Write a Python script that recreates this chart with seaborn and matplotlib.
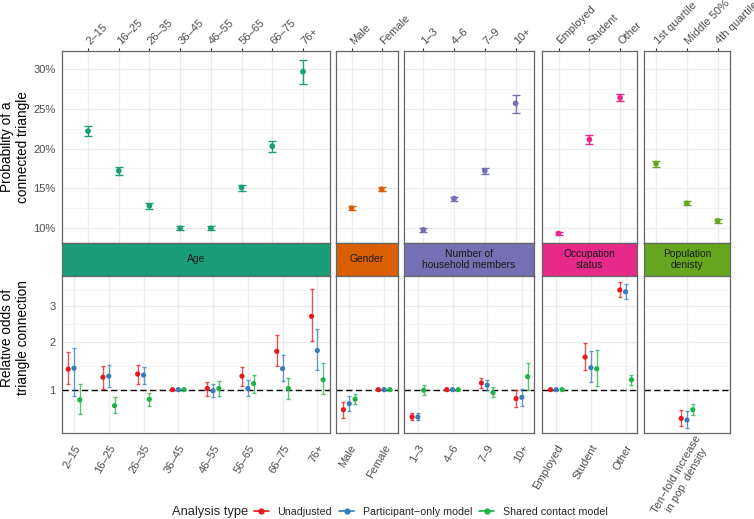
import numpy as np
import pandas as pd
import matplotlib.pyplot as plt
import seaborn as sns
from matplotlib.lines import Line2D

# --- Data ---
age_labels = ["2–15", "16–25", "26–35", "36–45", "46–55", "56–65", "66–75", "76+"]
gender_labels = ["Male", "Female"]
household_labels = ["1–3", "4–6", "7–9", "10+"]
occupation_labels = ["Employed", "Student", "Other"]
density_labels = ["1st quartile", "Middle 50%", "4th quartile"]
density_odds_labels = ["Ten−fold increase\nin pop. density"]

strip_titles = ["Age", "Gender", "Number of\nhousehold members",
                "Occupation\nstatus", "Population\ndenisty"]
group_colors = ["#1B9E77", "#D95F02", "#7570B3", "#E7298A", "#66A61E"]

# probability of a connected triangle (%): (estimate, lower, upper)
age_prob = [(22.2, 21.6, 22.8), (17.2, 16.7, 17.7), (12.8, 12.4, 13.1), (9.95, 9.7, 10.2),
            (9.95, 9.7, 10.2), (15.1, 14.7, 15.4), (20.3, 19.6, 20.9), (29.7, 28.1, 31.2)]
gender_prob = [(12.5, 12.3, 12.8), (14.85, 14.6, 15.1)]
household_prob = [(9.75, 9.45, 10.0), (13.7, 13.45, 13.95), (17.2, 16.8, 17.6), (25.7, 24.5, 26.8)]
occupation_prob = [(9.3, 9.1, 9.5), (21.15, 20.6, 21.7), (26.4, 26.0, 26.9)]
density_prob = [(18.1, 17.7, 18.4), (13.1, 12.85, 13.35), (10.9, 10.6, 11.1)]

# relative odds of triangle connection: (estimate, lower, upper)
age_unadj = [(1.39, 1.10, 1.77), (1.23, 1.02, 1.45), (1.29, 1.11, 1.47), (1.0, 1.0, 1.0),
             (1.02, 0.90, 1.13), (1.25, 1.07, 1.44), (1.78, 1.45, 2.17), (2.69, 2.02, 3.54)]
age_partonly = [(1.41, 0.90, 1.85), (1.25, 1.05, 1.47), (1.27, 1.10, 1.44), (1.0, 1.0, 1.0),
                (0.98, 0.88, 1.10), (1.02, 0.89, 1.18), (1.40, 1.15, 1.69), (1.80, 1.37, 2.35)]
age_shared = [(0.83, 0.62, 1.11), (0.74, 0.63, 0.87), (0.84, 0.74, 0.95), (1.0, 1.0, 1.0),
              (1.02, 0.90, 1.15), (1.11, 0.95, 1.27), (1.02, 0.85, 1.21), (1.18, 0.92, 1.51)]
gender_unadj = [(0.68, 0.57, 0.79), (1.0, 1.0, 1.0)]
gender_partonly = [(0.77, 0.66, 0.90), (1.0, 1.0, 1.0)]
gender_shared = [(0.84, 0.77, 0.93), (1.0, 1.0, 1.0)]
household_unadj = [(0.58, 0.54, 0.63), (1.0, 1.0, 1.0), (1.12, 1.03, 1.22), (0.85, 0.72, 0.99)]
household_partonly = [(0.58, 0.54, 0.64), (1.0, 1.0, 1.0), (1.08, 0.99, 1.18), (0.87, 0.73, 1.01)]
household_shared = [(0.99, 0.91, 1.08), (1.0, 1.0, 1.0), (0.95, 0.87, 1.05), (1.24, 0.99, 1.53)]
occupation_unadj = [(1.0, 1.0, 1.0), (1.65, 1.37, 1.98), (3.50, 3.27, 3.75)]
occupation_partonly = [(1.0, 1.0, 1.0), (1.42, 1.13, 1.78), (3.44, 3.22, 3.69)]
occupation_shared = [(1.0, 1.0, 1.0), (1.40, 1.07, 1.82), (1.18, 1.08, 1.28)]
density_unadj = [(0.56, 0.47, 0.68)]
density_partonly = [(0.54, 0.44, 0.66)]
density_shared = [(0.68, 0.60, 0.77)]

model_names = ["Unadjusted", "Participant−only model", "Shared contact model"]
model_colors = ["#E41A1C", "#377EB8", "#1DB446"]

# --- build long tables ---
prob_sets = [age_prob, gender_prob, household_prob, occupation_prob, density_prob]
top_labels = [age_labels, gender_labels, household_labels, occupation_labels, density_labels]
bottom_labels = [age_labels, gender_labels, household_labels, occupation_labels, density_odds_labels]
odds_sets = [
    [age_unadj, age_partonly, age_shared],
    [gender_unadj, gender_partonly, gender_shared],
    [household_unadj, household_partonly, household_shared],
    [occupation_unadj, occupation_partonly, occupation_shared],
    [density_unadj, density_partonly, density_shared],
]

top_rows = []
for g, vals in enumerate(prob_sets):
    for i, (est, lo, hi) in enumerate(vals):
        top_rows.append(dict(group=g, idx=i, est=est, lo=lo, hi=hi))
top_df = pd.DataFrame(top_rows)

dodge = [-0.167, 0.0, 0.167]
bottom_rows = []
for g, models in enumerate(odds_sets):
    for m, vals in enumerate(models):
        for i, (est, lo, hi) in enumerate(vals):
            bottom_rows.append(dict(group=g, idx=i, model=model_names[m],
                                    pos=i + dodge[m], est=est, lo=lo, hi=hi))
bottom_df = pd.DataFrame(bottom_rows)

# --- layout (pixel geometry of the reference) ---
sns.set_style("white")
plt.rcParams["font.family"] = ["Liberation Sans", "DejaVu Sans"]

W, H = 754, 519
fig = plt.figure(figsize=(W / 100, H / 100), dpi=100)


def px_axes(x0, y0, x1, y1):
    return fig.add_axes([x0 / W, 1 - y1 / H, (x1 - x0) / W, (y1 - y0) / H])


panel_x = [(62, 329.5), (336, 397.7), (404, 534), (542, 636.7), (644.3, 730)]
top_xlim = [(-0.847, 7.863), (-0.52, 1.53), (-0.63, 3.6), (-0.54, 2.54), (-0.38, 2.4)]
bot_xlim = [(-0.345, 7.35), (-0.38, 1.39), (-0.40, 3.35), (-0.41, 2.32), (-1.23, 1.24)]
TOP_Y = (51, 243)
STRIP_Y = (243, 276)
BOT_Y = (276, 433.3)

border = "#666666"
grid_major = "#EBEBEB"
tick_col = "#4D4D4D"
TICK_FS = 8.0

for g in range(5):
    x0, x1 = panel_x[g]
    col = group_colors[g]

    # top: probability panel
    ax = px_axes(x0, TOP_Y[0], x1, TOP_Y[1])
    sub = top_df[top_df.group == g]
    ax.errorbar(sub.idx, sub.est, yerr=[sub.est - sub.lo, sub.hi - sub.est], fmt="none",
                ecolor=col, elinewidth=1.0, capsize=3.2, capthick=1.0, zorder=3)
    sns.scatterplot(data=sub, x="idx", y="est", color=col, s=17, edgecolor="none",
                    ax=ax, zorder=4, legend=False)
    ax.set_xlim(top_xlim[g])
    ax.set_ylim(8.1, 32.3)
    ax.set_xticks(range(len(top_labels[g])))
    ax.set_xticklabels(top_labels[g], rotation=45, ha="left", va="center",
                       rotation_mode="anchor", fontsize=TICK_FS, color=tick_col)
    ax.xaxis.tick_top()
    ax.set_yticks([10, 15, 20, 25, 30])
    ax.set_yticks([12.5, 17.5, 22.5, 27.5], minor=True)
    if g == 0:
        ax.set_yticklabels([f"{v}%" for v in [10, 15, 20, 25, 30]], fontsize=TICK_FS, color=tick_col)
        ax.tick_params(axis="y", which="major", length=2.5, color="#333333", pad=2)
    else:
        ax.set_yticklabels([])
        ax.tick_params(axis="y", which="major", length=0)
    ax.tick_params(axis="y", which="minor", length=0)
    ax.tick_params(axis="x", length=2.5, color="#333333", pad=3.5)
    ax.set_xlabel("")
    ax.set_ylabel("")
    ax.grid(True, which="major", color=grid_major, lw=0.9, zorder=0)
    ax.grid(True, which="minor", axis="y", color="#F2F2F2", lw=0.5, zorder=0)
    ax.set_axisbelow(True)
    for s in ax.spines.values():
        s.set_color(border)
        s.set_linewidth(0.9)

    # strip
    sax = px_axes(x0, STRIP_Y[0], x1, STRIP_Y[1])
    sax.set_facecolor(col)
    sax.set_xticks([])
    sax.set_yticks([])
    for s in sax.spines.values():
        s.set_color(border)
        s.set_linewidth(0.9)
    sax.text(0.5, 0.5, strip_titles[g], ha="center", va="center", fontsize=7.4,
             color="#1A1A1A", transform=sax.transAxes, linespacing=1.05)

    # bottom: relative odds panel
    bx = px_axes(x0, BOT_Y[0], x1, BOT_Y[1])
    bx.set_yscale("function", functions=(np.sqrt, np.square))
    bsub = bottom_df[bottom_df.group == g]
    for m, name in enumerate(model_names):
        msub = bsub[bsub.model == name]
        bx.errorbar(msub.pos, msub.est, yerr=[msub.est - msub.lo, msub.hi - msub.est],
                    fmt="none", ecolor=model_colors[m], elinewidth=1.0, alpha=0.75,
                    capsize=1.6, capthick=1.0, zorder=3)
    sns.scatterplot(data=bsub, x="pos", y="est", hue="model", palette=model_colors,
                    hue_order=model_names, s=14, edgecolor="none", ax=bx, zorder=4,
                    legend=False)
    bx.axhline(1, color="black", lw=1.0, ls=(0, (4.5, 2.5)), zorder=2)
    bx.set_xlim(bot_xlim[g])
    bx.set_ylim(0.383, 3.97)
    bx.set_xticks(range(len(bottom_labels[g])))
    if g == 4:
        # the two-line label sits a little up and right of a plain tick label
        bx.set_xticklabels([""])
        for i, lab in enumerate(bottom_labels[g]):
            bx.annotate(lab, xy=(i, 0), xycoords=bx.get_xaxis_transform(),
                        xytext=(5, 0), textcoords="offset points", rotation=60,
                        ha="right", va="top", rotation_mode="anchor",
                        multialignment="center", fontsize=TICK_FS, color=tick_col,
                        annotation_clip=False)
    else:
        bx.set_xticklabels(bottom_labels[g], rotation=60, ha="right", va="top",
                           rotation_mode="anchor", fontsize=TICK_FS, color=tick_col)
    bx.set_yticks([1, 2, 3])
    bx.set_yticks([1.457, 2.475, 3.5], minor=True)
    if g == 0:
        bx.set_yticklabels(["1", "2", "3"], fontsize=TICK_FS, color=tick_col)
        bx.tick_params(axis="y", which="major", length=2.5, color="#333333", pad=2)
    else:
        bx.set_yticklabels([])
        bx.tick_params(axis="y", which="major", length=0)
    bx.tick_params(axis="y", which="minor", length=0)
    bx.tick_params(axis="x", length=2.5, color="#333333", pad=4.5)
    bx.set_xlabel("")
    bx.set_ylabel("")
    bx.grid(True, which="major", color=grid_major, lw=0.9, zorder=0)
    bx.grid(True, which="minor", axis="y", color="#F2F2F2", lw=0.5, zorder=0)
    bx.set_axisbelow(True)
    for s in bx.spines.values():
        s.set_color(border)
        s.set_linewidth(0.9)

# axis titles
fig.text(15 / W, 1 - 147 / H, "Probability of a\nconnected triangle", rotation=90,
         ha="center", va="center", fontsize=9.8, color="black")
fig.text(15 / W, 1 - 338 / H, "Relative odds of\ntriangle connection", rotation=90,
         ha="center", va="center", fontsize=9.8, color="black")

# legend
fig.text(172 / W, 1 - 512 / H, "Analysis type", ha="left", va="center", fontsize=9.3)
handles = [Line2D([0], [0], color=c, lw=1.2, marker="o", markersize=3.5) for c in model_colors]
fig.legend(handles, model_names, loc="center left", bbox_to_anchor=(254 / W, 1 - 512 / H),
           ncol=3, frameon=False, fontsize=7.7, handlelength=1.4, handletextpad=0.8,
           columnspacing=0.65, borderaxespad=0, borderpad=0)

fig.savefig("out.png", dpi=100)
